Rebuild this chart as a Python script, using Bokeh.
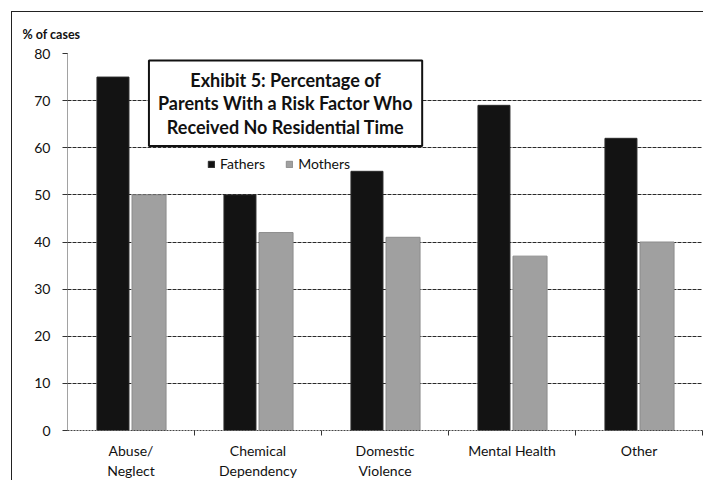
from bokeh.plotting import figure
from bokeh.models import (Range1d, FixedTicker, Label, Legend, LegendItem, ColumnDataSource)
from bokeh.embed import file_html
from bokeh.resources import INLINE

# Data
categories = ["Abuse/\nNeglect", "Chemical\nDependency", "Domestic\nViolence", "Mental Health", "Other"]
fathers = [75, 50, 55, 69, 62]
mothers = [50, 42, 41, 37, 40]
y_ticks = [0, 10, 20, 30, 40, 50, 60, 70, 80]

FONT = "Lato"
INK = "#111111"

idx = list(range(len(categories)))
src = ColumnDataSource(dict(
    xf=[i + 0.5 - 0.142 for i in idx],
    xm=[i + 0.5 + 0.142 for i in idx],
    fathers=fathers,
    mothers=mothers,
))

p = figure(width=692, height=469, output_backend="svg", toolbar_location=None,
           x_range=Range1d(0, len(categories)), y_range=Range1d(0, 80),
           title="% of cases",
           min_border_left=55, min_border_top=41, min_border_right=2, min_border_bottom=50)
p.margin = (11, 0, 0, 11)
p.styles = {"border-left": "1px solid #222", "border-top": "1px solid #222"}
p.outline_line_color = None
p.background_fill_color = "white"
p.border_fill_color = "white"

# Axis caption in the title slot, pulled left over the tick labels
p.title.align = "left"
p.title.vertical_align = "top"
p.title.offset = -45
p.title.standoff = 20
p.title.text_font = FONT
p.title.text_font_style = "bold"
p.title.text_font_size = "12.5px"
p.title.text_color = INK

rf = p.vbar(x="xf", top="fathers", width=0.252, source=src,
            fill_color="#131313", line_color="#2a2a2a", line_width=1)
rm = p.vbar(x="xm", top="mothers", width=0.268, source=src,
            fill_color="#a0a0a0", line_color="#8c8c8c", line_width=1)

# Axes
p.xgrid.visible = False
p.ygrid.ticker = FixedTicker(ticks=y_ticks)
p.ygrid.grid_line_color = "#2a2a2a"
p.ygrid.grid_line_dash = "4 1"

p.yaxis.ticker = FixedTicker(ticks=y_ticks)
p.yaxis.axis_line_color = "#444444"
p.yaxis.axis_line_dash = "1 1"
p.yaxis.major_tick_out = 5
p.yaxis.major_tick_in = 0
p.yaxis.major_tick_line_color = "#333333"
p.yaxis.minor_tick_line_color = None
p.yaxis.major_label_standoff = 12
p.yaxis.major_label_text_font = FONT
p.yaxis.major_label_text_font_size = "14px"
p.yaxis.major_label_text_color = INK

p.xaxis.ticker = FixedTicker(ticks=[i + 0.5 for i in idx], minor_ticks=list(range(1, len(categories) + 1)))
p.xaxis.major_label_overrides = {i + 0.5: c for i, c in zip(idx, categories)}
p.xaxis.axis_line_color = "#444444"
p.xaxis.axis_line_dash = "2 1"
p.xaxis.major_tick_line_color = None
p.xaxis.minor_tick_out = 5
p.xaxis.minor_tick_in = 0
p.xaxis.minor_tick_line_color = "#333333"
p.xaxis.major_label_standoff = 5
p.xaxis.major_label_text_font = FONT
p.xaxis.major_label_text_font_size = "14px"
p.xaxis.major_label_text_color = INK

legend = Legend(items=[LegendItem(label="Fathers", renderers=[rf]),
                       LegendItem(label="Mothers", renderers=[rm])],
                orientation="horizontal", location=(140, 258),
                glyph_width=8, glyph_height=8, label_standoff=5, spacing=20,
                padding=0, margin=0, border_line_color=None, background_fill_alpha=0,
                label_text_font=FONT, label_text_font_size="14px", label_text_color=INK)
p.add_layout(legend, "center")

# Boxed title inside the plot area
title = Label(x=1.717, y=78.5, text="Exhibit 5: Percentage of\nParents With a Risk Factor Who\nReceived No Residential Time",
              text_align="center", text_baseline="top", text_font=FONT, text_font_style="bold",
              text_font_size="18px", text_color=INK, text_line_height=1.08,
              border_line_color="#111111", border_line_width=2,
              background_fill_color="white", padding=(9, 8))
p.add_layout(title)

open("out.html", "w").write(file_html(p, INLINE))
